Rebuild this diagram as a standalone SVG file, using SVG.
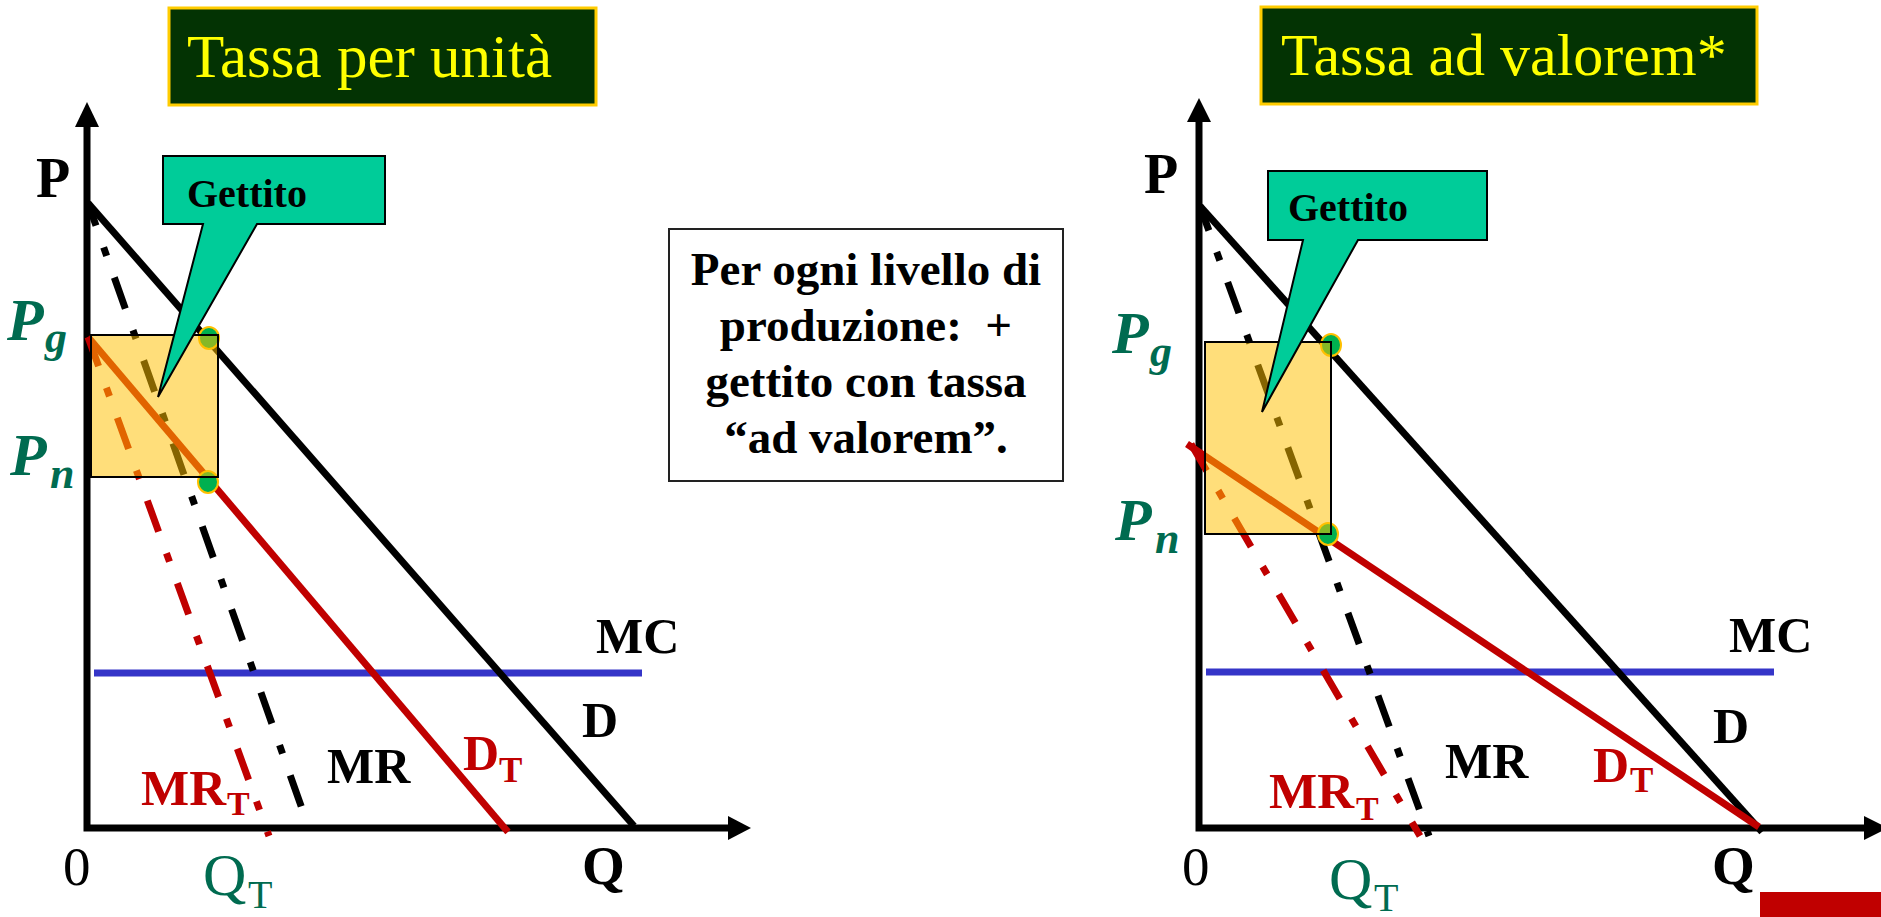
<svg xmlns="http://www.w3.org/2000/svg" width="1881" height="917" viewBox="0 0 1881 917">
<style>
.bg{fill:#fff}
.ax{stroke:#000;stroke-width:7;fill:none}
.ah{fill:#000}
.d{stroke:#000;stroke-width:7;fill:none}
.dt{stroke:#C00000;stroke-width:7;fill:none}
.mr{stroke:#000;stroke-width:7;fill:none;stroke-dasharray:33 23 9 23}
.mrt{stroke:#C00000;stroke-width:7;fill:none;stroke-dasharray:33 23 9 23}
.mc{stroke:#3535C8;stroke-width:7;fill:none}
.dot{fill:#00B050;stroke:#FFC000;stroke-width:2}
.area{fill:#FFC000;fill-opacity:0.52;stroke:#000;stroke-width:2}
.call{fill:#00CC99;stroke:#000;stroke-width:2}
.tbox{fill:#033303;stroke:#FFCC00;stroke-width:3}
.ttl{font-family:"Liberation Serif","Times New Roman",serif;fill:#FFFF00}
.lab{font-family:"Liberation Serif","Times New Roman",serif;font-weight:bold;fill:#000}
.red{fill:#C00000}
.grn{font-family:"Liberation Serif","Times New Roman",serif;fill:#006B50}
.pi{font-family:"Liberation Serif","Times New Roman",serif;font-weight:bold;font-style:italic;fill:#006B50}
.reg{font-family:"Liberation Serif","Times New Roman",serif;fill:#000}
.note{font-family:"Liberation Serif","Times New Roman",serif;font-weight:bold;font-size:47px;fill:#000;text-anchor:middle}
</style>
<rect class="bg" x="0" y="0" width="1881" height="917"/>

<g id="title-left">
<rect class="tbox" x="169" y="8" width="427" height="97"/>
<text class="ttl" x="187" y="77" font-size="61">Tassa per unità</text>
</g>
<g id="title-right">
<rect class="tbox" x="1261" y="7" width="496" height="97"/>
<text class="ttl" x="1281" y="75" font-size="60">Tassa ad valorem*</text>
</g>

<g id="connectors">
<path class="ax" d="M87,122 V828 H733"/>
<polygon class="ah" points="87,102 75,127 99,127"/>
<polygon class="ah" points="751,828 728,816 728,840"/>
<path class="ax" d="M1199,118 V828 H1869"/>
<polygon class="ah" points="1199,98 1187,122 1211,122"/>
<polygon class="ah" points="1888,828 1864,816 1864,840"/>

<line class="mc" x1="94" y1="673" x2="642" y2="673"/>
<line class="d" x1="88" y1="203" x2="634" y2="826"/>
<line class="mr" x1="88" y1="203" x2="306" y2="820" style="stroke-dashoffset:9"/>
<line class="dt" x1="88" y1="337" x2="508" y2="832"/>
<line class="mrt" x1="88" y1="337" x2="269" y2="836" style="stroke-dashoffset:2"/>

<line class="mc" x1="1206" y1="672" x2="1774" y2="672"/>
<line class="d" x1="1200" y1="206" x2="1762" y2="832"/>
<line class="mr" x1="1200" y1="206" x2="1429" y2="836" style="stroke-dashoffset:7"/>
<line class="dt" x1="1187" y1="444" x2="1759" y2="827"/>
<line class="mrt" x1="1191" y1="444" x2="1420" y2="836" style="stroke-dashoffset:2"/>
</g>

<g id="points-left">
<ellipse class="dot" cx="209" cy="338" rx="10" ry="11"/>
<ellipse class="dot" cx="208" cy="482" rx="10" ry="11"/>
</g>
<g id="points-right">
<ellipse class="dot" cx="1331" cy="345" rx="10" ry="11"/>
<ellipse class="dot" cx="1328" cy="534" rx="10" ry="11"/>
</g>

<g id="area-left"><rect class="area" x="91" y="335" width="127" height="142"/></g>
<g id="area-right"><rect class="area" x="1205" y="342" width="126" height="192"/></g>

<g id="callout-left">
<path class="call" d="M163,156 H385 V224 H257 L158,397 L203,224 H163 Z"/>
<text class="lab" x="187" y="207" font-size="40">Gettito</text>
</g>
<g id="callout-right">
<path class="call" d="M1268,171 H1487 V240 H1358 L1262,412 L1303,240 H1268 Z"/>
<text class="lab" x="1288" y="221" font-size="40">Gettito</text>
</g>

<g id="note">
<rect x="669" y="229" width="394" height="252" fill="#fff" stroke="#222" stroke-width="2"/>
<text class="note" x="866" y="285">Per ogni livello di</text>
<text class="note" x="866" y="341">produzione:&#160; +</text>
<text class="note" x="866" y="397">gettito con tassa</text>
<text class="note" x="866" y="453">“ad valorem”.</text>
</g>

<g id="labels-left">
<text class="lab" x="36" y="197" font-size="56">P</text>
<text class="pi" x="7" y="340" font-size="60">P</text>
<text class="pi" x="45" y="352" font-size="44">g</text>
<text class="pi" x="10" y="475" font-size="60">P</text>
<text class="pi" x="50" y="488" font-size="44">n</text>
<text class="lab" x="596" y="653" font-size="50">MC</text>
<text class="lab" x="582" y="737" font-size="50">D</text>
<text class="lab" x="327" y="783" font-size="50">MR</text>
<text class="lab red" x="463" y="770" font-size="50">D</text>
<text class="lab red" x="499" y="782" font-size="35">T</text>
<text class="lab red" x="141" y="805" font-size="51">MR</text>
<text class="lab red" x="227" y="815" font-size="34">T</text>
<text class="reg" x="63" y="885" font-size="55">0</text>
<text class="lab" x="582" y="884" font-size="55">Q</text>
<text class="grn" x="203" y="895" font-size="60">Q</text>
<text class="grn" x="248" y="908" font-size="40">T</text>
</g>

<g id="labels-right">
<text class="lab" x="1144" y="193" font-size="56">P</text>
<text class="pi" x="1112" y="353" font-size="60">P</text>
<text class="pi" x="1150" y="366" font-size="44">g</text>
<text class="pi" x="1115" y="540" font-size="60">P</text>
<text class="pi" x="1155" y="553" font-size="44">n</text>
<text class="lab" x="1729" y="652" font-size="50">MC</text>
<text class="lab" x="1713" y="743" font-size="50">D</text>
<text class="lab" x="1445" y="778" font-size="50">MR</text>
<text class="lab red" x="1593" y="782" font-size="50">D</text>
<text class="lab red" x="1630" y="792" font-size="35">T</text>
<text class="lab red" x="1269" y="808" font-size="51">MR</text>
<text class="lab red" x="1356" y="820" font-size="34">T</text>
<text class="reg" x="1182" y="885" font-size="55">0</text>
<text class="lab" x="1712" y="884" font-size="55">Q</text>
<text class="grn" x="1329" y="899" font-size="60">Q</text>
<text class="grn" x="1374" y="911" font-size="40">T</text>
</g>

<g id="corner-bar"><rect x="1760" y="892" width="121" height="25" fill="#C00000"/></g>
</svg>
